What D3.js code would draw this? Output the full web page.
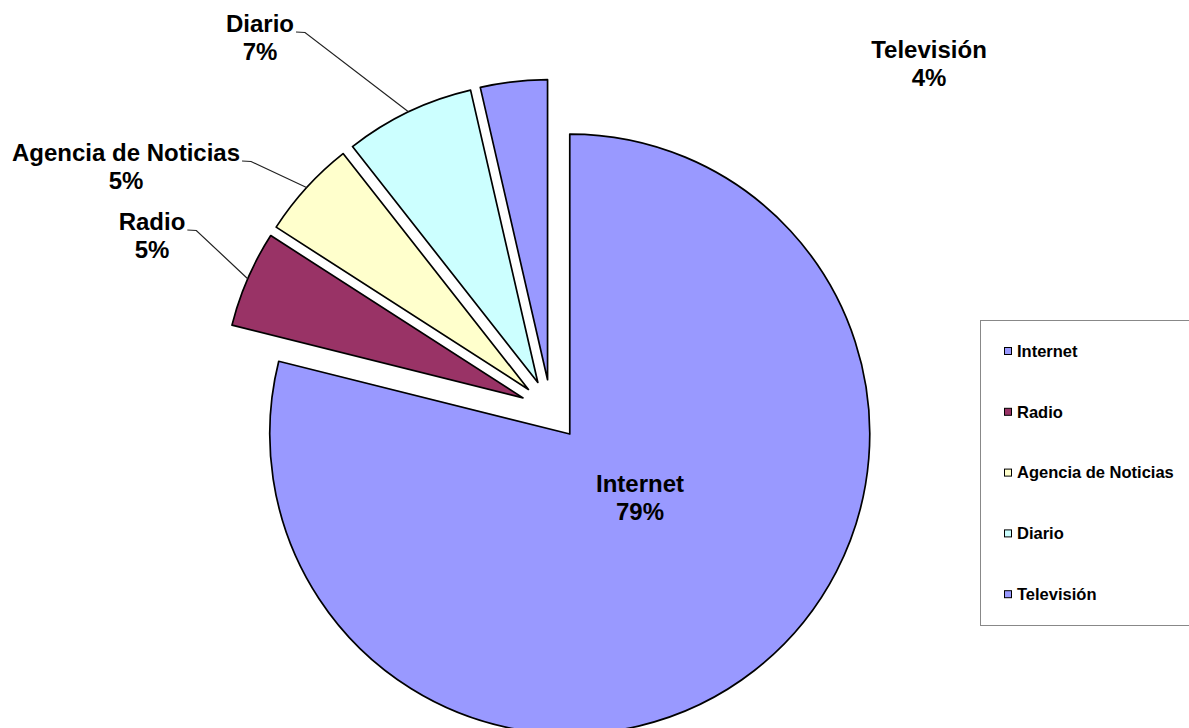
<!DOCTYPE html>
<html>
<head>
<meta charset="utf-8">
<script src="https://cdn.jsdelivr.net/npm/d3@7"></script>
<style>
  html, body { margin: 0; padding: 0; background: #ffffff; }
  svg { display: block; }
  text { font-family: "Liberation Sans", Arial, sans-serif; font-weight: bold; fill: #000; }
</style>
</head>
<body>
<svg id="chart" width="1189" height="728"></svg>
<script>
// ---- data ----
const categories = ["Internet", "Radio", "Agencia de Noticias", "Diario", "Televisión"];
const values = [78.9, 5.2, 5.3, 7.0, 3.6];
const percentLabels = ["79%", "5%", "5%", "7%", "4%"];
const colors = ["#9999FF", "#993366", "#FFFFCC", "#CCFFFF", "#9999FF"];

// ---- layout ----
const W = 1189, H = 728;
const cx = 551, cy = 410, R = 300, explode = 30.5;
// label anchors: [center x, baseline y of first line], and whether a leader line is drawn
const labelPos = {
  "Internet": [640, 491.5, false],
  "Radio": [152, 230, true],
  "Agencia de Noticias": [126, 161, true],
  "Diario": [260, 32, true],
  "Televisión": [929, 58, false]
};
const lineGap = 28;

const svg = d3.select("#chart");
svg.append("rect").attr("width", W).attr("height", H).attr("fill", "#fff");

const data = categories.map((c, i) => ({ name: c, value: values[i], pct: percentLabels[i], color: colors[i] }));
const pie = d3.pie().value(d => d.value).sort(null).startAngle(0).endAngle(2 * Math.PI);
const arcs = pie(data);
const arc = d3.arc().innerRadius(0).outerRadius(R);
const outer = d3.arc().innerRadius(R).outerRadius(R);

function offset(d) {
  const m = (d.startAngle + d.endAngle) / 2;
  return [Math.sin(m) * explode, -Math.cos(m) * explode];
}

const g = svg.append("g").attr("transform", `translate(${cx},${cy})`);
g.selectAll("path.slice").data(arcs).join("path")
  .attr("class", "slice")
  .attr("transform", d => { const o = offset(d); return `translate(${o[0]},${o[1]})`; })
  .attr("d", arc)
  .attr("fill", d => d.data.color)
  .attr("stroke", "#000")
  .attr("stroke-width", 1.7)
  .attr("stroke-linejoin", "round");

// labels
arcs.forEach(d => {
  const [lx, ly, leader] = labelPos[d.data.name];
  const t1 = svg.append("text").attr("x", lx).attr("y", ly).attr("text-anchor", "middle")
    .attr("font-size", 24).text(d.data.name);
  svg.append("text").attr("x", lx).attr("y", ly + lineGap).attr("text-anchor", "middle")
    .attr("font-size", 24).text(d.data.pct);
  if (leader) {
    const w = t1.node().getComputedTextLength();
    const x0 = lx + w / 2 + 2;
    const o = offset(d);
    const c = outer.centroid(d);
    const ex = cx + o[0] + c[0], ey = cy + o[1] + c[1];
    svg.append("path")
      .attr("d", `M${x0},${ly} L${x0 + 9},${ly + 0.5} L${ex},${ey}`)
      .attr("fill", "none").attr("stroke", "#222").attr("stroke-width", 1.2);
  }
});

// legend
const lg = svg.append("g");
lg.append("rect").attr("x", 980.5).attr("y", 320.5).attr("width", 230).attr("height", 305)
  .attr("fill", "#fff").attr("stroke", "#888").attr("stroke-width", 1);
const ly0 = 351, lstep = 60.8;
data.forEach((d, i) => {
  const y = ly0 + i * lstep;
  lg.append("rect").attr("x", 1004.5).attr("y", y - 3.5).attr("width", 7).attr("height", 7)
    .attr("fill", d.color).attr("stroke", "#000").attr("stroke-width", 1);
  lg.append("text").attr("x", 1017).attr("y", y + 5.8).attr("font-size", 16.5).text(d.name);
});
</script>
</body>
</html>
